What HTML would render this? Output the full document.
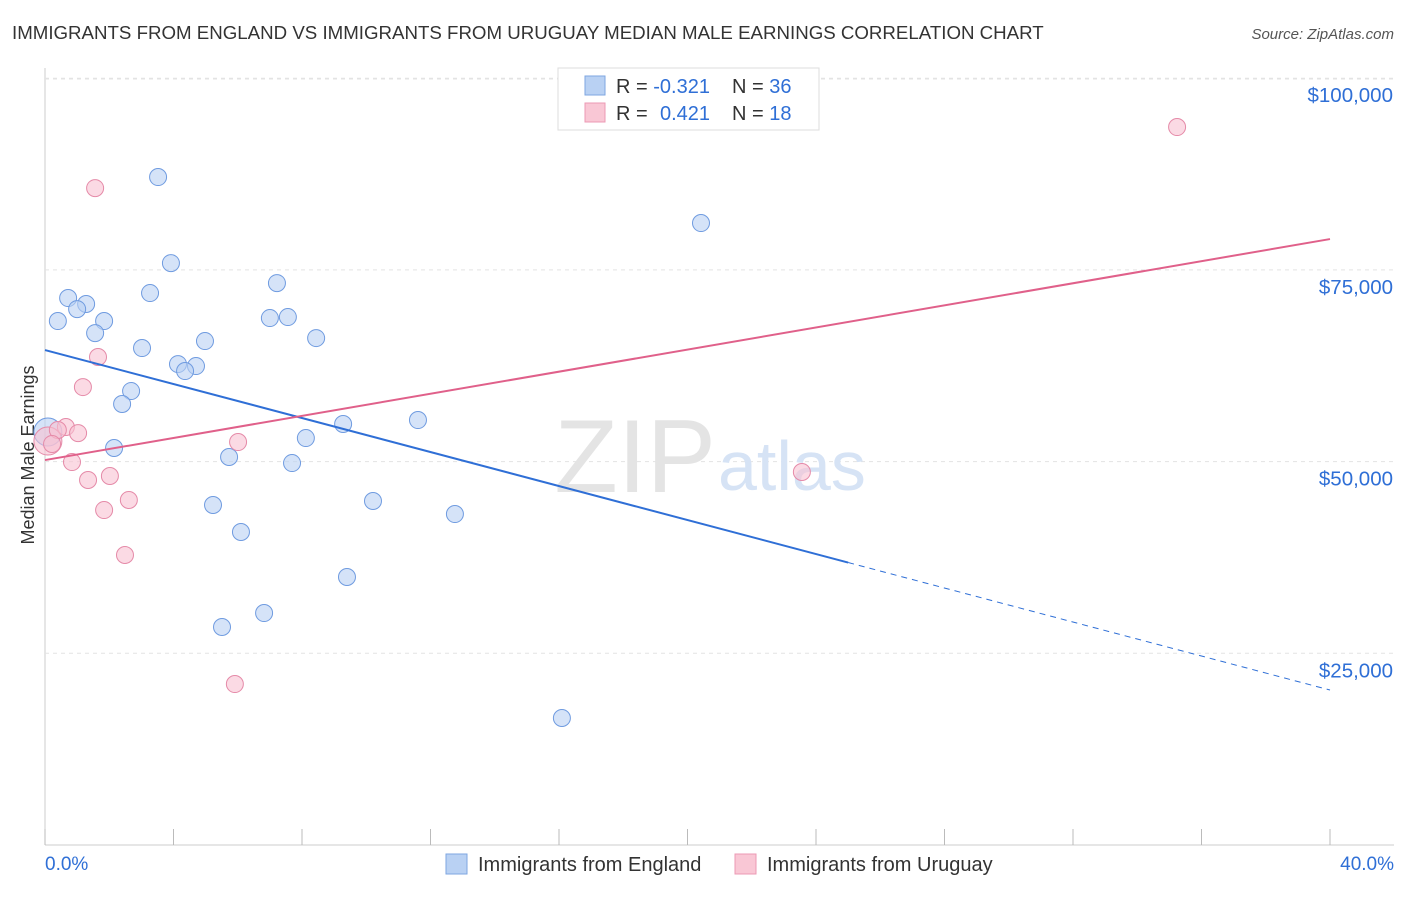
<!DOCTYPE html>
<html><head><meta charset="utf-8"><style>
body{margin:0;background:#fff;font-family:"Liberation Sans",sans-serif;}
svg text{font-family:"Liberation Sans",sans-serif;}
</style></head><body>
<svg id="chart" width="1406" height="892" xmlns="http://www.w3.org/2000/svg">
<text x="12" y="39" font-size="18.7" fill="#333">IMMIGRANTS FROM ENGLAND VS IMMIGRANTS FROM URUGUAY MEDIAN MALE EARNINGS CORRELATION CHART</text>
<text x="1394" y="39" font-size="15" fill="#555" text-anchor="end" font-style="italic">Source: ZipAtlas.com</text>
<text transform="translate(34,455) rotate(-90)" font-size="18" fill="#333" text-anchor="middle">Median Male Earnings</text>
<g id="grid"></g>
<text x="716" y="492" font-size="104" fill="#e4e4e4" text-anchor="end" font-family="Liberation Serif">ZIP</text>
<text x="718" y="490" font-size="70" fill="#d6e3f5">atlas</text>
<g id="marks"></g>
<g>
<rect x="558" y="68" width="261" height="62" fill="#fff" stroke="#ddd"/>
<rect x="585" y="76" width="20" height="19" fill="#b9d1f3" stroke="#7ea6e0"/>
<rect x="585" y="103" width="20" height="19" fill="#f9c7d5" stroke="#ec9ab4"/>
<text x="616" y="93" font-size="20" fill="#333">R = <tspan fill="#2f6fd6">-0.321</tspan><tspan x="732">N = </tspan><tspan fill="#2f6fd6">36</tspan></text>
<text x="616" y="120" font-size="20" fill="#333">R = <tspan fill="#2f6fd6" x="660">0.421</tspan><tspan x="732">N = </tspan><tspan fill="#2f6fd6">18</tspan></text>
</g>
<g>
<rect x="446" y="854" width="21" height="20" fill="#b9d1f3" stroke="#7ea6e0"/>
<text x="478" y="871" font-size="20" fill="#333">Immigrants from England</text>
<rect x="735" y="854" width="21" height="20" fill="#f9c7d5" stroke="#ec9ab4"/>
<text x="767" y="871" font-size="20" fill="#333">Immigrants from Uruguay</text>
</g>
</svg>
<script>
const yTicks=[25000,50000,75000,100000];
const yTickLabels=["$25,000","$50,000","$75,000","$100,000"];
const xTicks=[0,4,8,12,16,20,24,28,32,36,40];
const englandX=[3.52,3.92,3.27,0.72,1.28,1.00,0.40,1.84,1.56,7.22,7.00,7.56,8.44,4.98,3.02,4.14,4.70,4.36,2.68,2.40,0.09,9.28,11.61,8.12,2.15,5.73,7.69,20.42,5.23,10.21,12.76,6.10,9.40,6.82,5.51,16.09];
const englandY=[87110,75890,71980,71330,70550,69890,68330,68330,66760,73280,68720,68850,66110,65720,64810,62720,62460,61810,59200,57510,53860,54900,55420,53070,51770,50600,49810,81110,44340,44860,43160,40820,34950,30250,28430,16560];
const uruguayX=[35.24,1.56,1.65,1.18,0.65,1.03,0.09,0.84,6.01,2.02,1.34,2.61,1.84,2.49,5.91,23.56,0.40,0.22];
const uruguayY=[93630,85670,63640,59720,54510,53720,52680,49940,52550,48120,47600,44990,43680,37820,20990,48640,54120,52300];
const englandTrend=[64550,20210];
const uruguayTrend=[50200,79020];
const englandSolidEnd=25;
const NS="http://www.w3.org/2000/svg";
const X=p=>45+p/40*1285;
const Y=v=>845-v/50000*383.4;
function mk(t,a,p){const e=document.createElementNS(NS,t);for(const k in a)e.setAttribute(k,a[k]);p.appendChild(e);return e;}
const g=document.getElementById('grid'),m=document.getElementById('marks');
let l=mk('line',{x1:45,y1:845,x2:1394,y2:845,stroke:'#ccc'},g);


l=mk('line',{x1:45,y1:68,x2:45,y2:845,stroke:'#ccc'},g);


l=mk('line',{x1:45,y1:79,x2:1394,y2:79,stroke:'#e3e3e3','stroke-dasharray':'4,4'},g);


yTicks.forEach((v,i)=>{
 const ln=mk('line',{x1:45,y1:Y(v),x2:1394,y2:Y(v),stroke:'#e3e3e3','stroke-dasharray':'4,4'},g);
 
 
 const t=mk('text',{x:1393,y:Y(v)+24,'font-size':20.5,fill:'#2f6fd6','text-anchor':'end'},g);
 t.textContent=yTickLabels[i];
 
 
});
xTicks.forEach(p=>{
 const tk=mk('line',{x1:X(p),y1:829,x2:X(p),y2:845,stroke:'#bbb'},g);
 
 
});
let t=mk('text',{x:45,y:870,'font-size':19,fill:'#2f6fd6'},g);t.textContent='0.0%';


t=mk('text',{x:1394,y:870,'font-size':19,fill:'#2f6fd6','text-anchor':'end'},g);t.textContent='40.0%';


function pts(xs,ys,fill,stroke,name){xs.forEach((x,i)=>{
 const big=(x<0.15);
 const c=mk('circle',{cx:X(x),cy:Y(ys[i]),r:big?14:8.5,fill:fill,'fill-opacity':0.6,stroke:stroke,'stroke-width':1},m);
 
 
});}
pts(englandX,englandY,'#b9d1f3','#6f9be0','england-point');
pts(uruguayX,uruguayY,'#f9c2d2','#e58aa8','uruguay-point');
const bY=p=>englandTrend[0]+(englandTrend[1]-englandTrend[0])*p/40;
l=mk('line',{x1:X(0),y1:Y(bY(0)),x2:X(englandSolidEnd),y2:Y(bY(englandSolidEnd)),stroke:'#2f6fd6','stroke-width':2},m);


l=mk('line',{x1:X(englandSolidEnd),y1:Y(bY(englandSolidEnd)),x2:X(40),y2:Y(bY(40)),stroke:'#2f6fd6','stroke-width':1,'stroke-dasharray':'6,5'},m);


l=mk('line',{x1:X(0),y1:Y(uruguayTrend[0]),x2:X(40),y2:Y(uruguayTrend[1]),stroke:'#e0608a','stroke-width':2},m);


</script>
</body></html>
